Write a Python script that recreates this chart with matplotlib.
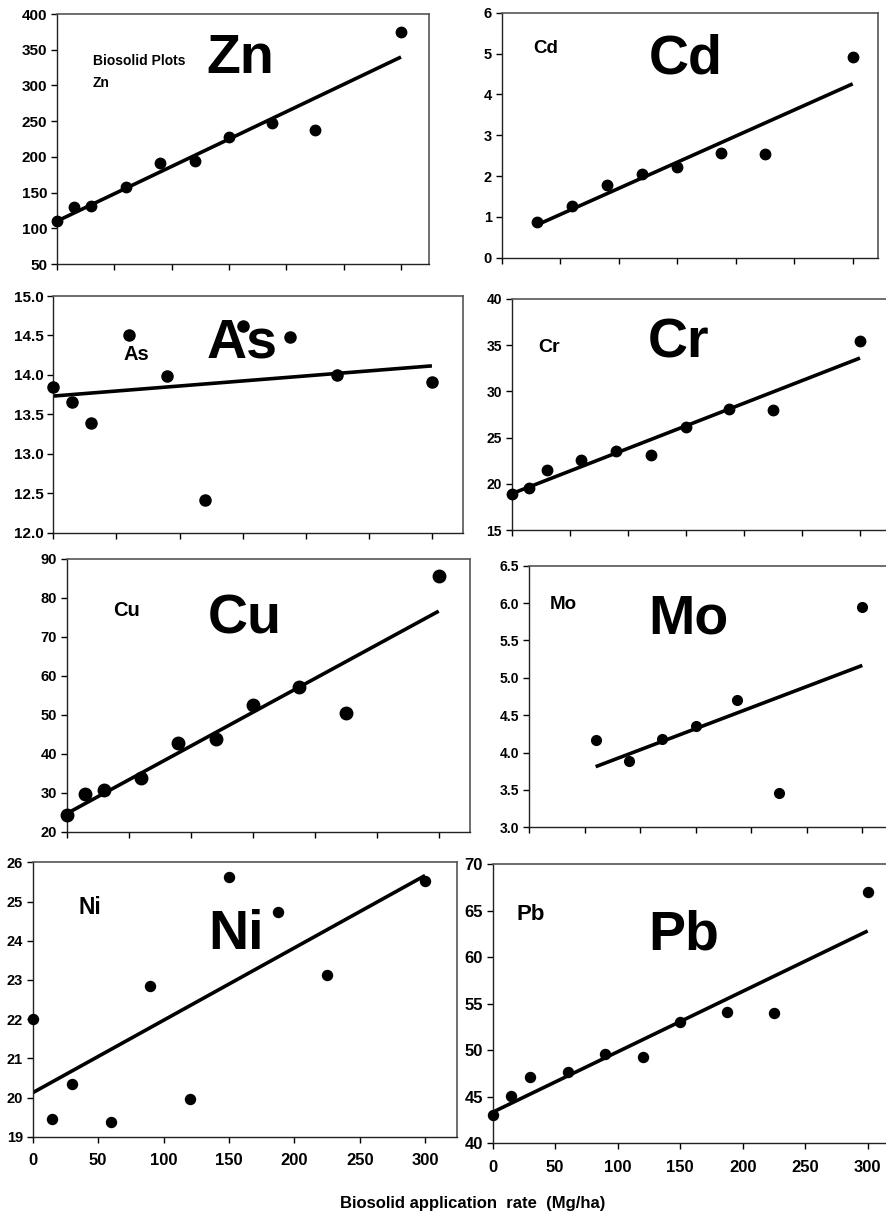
import numpy as np
import matplotlib
matplotlib.use("Agg")
import matplotlib.pyplot as plt

plt.rcParams['font.family'] = ['Liberation Sans', 'DejaVu Sans']
plt.rcParams['font.weight'] = 'bold'

# application rates (Mg/ha)
rate = [0, 15, 30, 60, 90, 120, 150, 187.5, 225, 300]

zn = [110, 130, 131, 158, 192, 194, 228, 247, 237, 375]
cd_rate = [30, 60, 90, 120, 150, 187.5, 225, 300]
cd = [0.88, 1.27, 1.78, 2.04, 2.23, 2.57, 2.53, 4.92]
as_ = [13.85, 13.66, 13.39, 14.51, 13.98, 12.42, 14.62, 14.48, 14.00, 13.91]
cr = [18.9, 19.5, 21.5, 22.6, 23.6, 23.1, 26.1, 28.1, 28.0, 35.5]
cu = [24.3, 29.7, 30.7, 33.7, 42.7, 43.7, 52.4, 57.2, 50.4, 85.6]
mo_rate = [60, 90, 120, 150, 187.5, 225, 300]
mo = [4.17, 3.89, 4.18, 4.35, 4.70, 3.46, 5.95]
ni = [22.0, 19.44, 20.34, 19.38, 22.84, 19.95, 25.62, 24.74, 23.13, 25.53]
pb = [43.05, 45.13, 47.1, 47.63, 49.57, 49.25, 53.01, 54.16, 53.98, 67.06]

W, H = 886, 1216
fig = plt.figure(figsize=(W / 100, H / 100), dpi=100)


def panel(box, x0px, sc, x, y, ylim, ystep, fmt, name, small, small_pos, big_pos,
          tick_fs, small_fs=12, ms=7.5, xlabels=False, xtick_fs=12):
    l, t, r, b = box
    ax = fig.add_axes([l / W, 1 - b / H, (r - l) / W, (b - t) / H])
    ax.plot(x, y, 'o', color='black', ms=ms, zorder=3, clip_on=False)
    # linear trend line, as in the original spreadsheet chart
    k, c = np.polyfit(x, y, 1)
    xx = np.array([min(x), max(x)])
    ax.plot(xx, k * xx + c, color='black', lw=2.6, solid_capstyle='butt', zorder=2)
    ax.set_xlim((l - x0px) / sc, (r - x0px) / sc)
    ax.set_ylim(*ylim)
    ax.set_xticks(np.arange(0, 301, 50))
    yt = np.arange(ylim[0], ylim[1] + ystep / 2, ystep)
    ax.set_yticks(yt)
    ax.set_yticklabels([fmt % v for v in yt], fontsize=tick_fs, fontweight='bold')
    if xlabels:
        ax.set_xticklabels([str(v) for v in range(0, 301, 50)], fontsize=xtick_fs,
                           fontweight='bold')
    else:
        ax.set_xticklabels([])
    ax.tick_params(direction='out', length=4, width=1, color='black', pad=3)
    ax.tick_params(axis='x', pad=8)
    for s in ['left', 'bottom']:
        ax.spines[s].set_color('#222222')
        ax.spines[s].set_linewidth(1.0)
    for s in ['top', 'right']:
        ax.spines[s].set_color('#555555')
        ax.spines[s].set_linewidth(1.2)
    fig.text(big_pos[0] / W, 1 - big_pos[1] / H, name, fontsize=40, fontweight='bold',
             ha='left', va='baseline')
    fig.text(small_pos[0] / W, 1 - small_pos[1] / H, small, fontsize=small_fs,
             fontweight='bold', ha='left', va='baseline')
    return ax


panel((57, 14, 429, 264), 57, 1.1467, rate, zn, (50, 400), 50, '%d', 'Zn', 'Zn',
      (93, 87), (206, 73), 11, small_fs=10)
fig.text(93 / W, 1 - 65 / H, 'Biosolid Plots', fontsize=10, fontweight='bold',
         ha='left', va='baseline')
panel((501.7, 12.7, 877.7, 257.7), 501.7, 1.17, cd_rate, cd, (0, 6), 1, '%d', 'Cd', 'Cd',
      (533, 53), (649, 73), 10.5, small_fs=13.5)
panel((53.3, 296, 463, 532.7), 53.3, 1.262, rate, as_, (12.0, 15.0), 0.5, '%.1f', 'As', 'As',
      (124, 360), (207, 357), 11, small_fs=14.5, ms=8)
panel((511.7, 299, 890, 530), 511.7, 1.161, rate, cr, (15, 40), 5, '%d', 'Cr', 'Cr',
      (538, 352), (648, 357), 10, small_fs=14)
panel((66.7, 559, 470, 831.7), 66.7, 1.24, rate, cu, (20, 90), 10, '%d', 'Cu', 'Cu',
      (113, 616), (208, 633), 10.5, small_fs=14.5, ms=9)
panel((529, 565.7, 890, 827.3), 529, 1.111, mo_rate, mo, (3.0, 6.5), 0.5, '%.1f', 'Mo', 'Mo',
      (550, 609), (648, 633), 10, small_fs=13.5, ms=7)
panel((32.7, 862.3, 457.3, 1136.7), 32.7, 1.308, rate, ni, (19, 26), 1, '%d', 'Ni', 'Ni',
      (78, 914), (208, 949), 10.5, small_fs=16.5, ms=7.2, xlabels=True, xtick_fs=12)
panel((492.7, 864.3, 899, 1143.3), 492.7, 1.25, rate, pb, (40, 70), 5, '%d', 'Pb', 'Pb',
      (517, 920), (648, 949), 12, small_fs=16, ms=7.2, xlabels=True, xtick_fs=12)

fig.text(473 / W, 1 - 1208 / H, 'Biosolid application  rate  (Mg/ha)', fontsize=12,
         fontweight='bold', ha='center', va='baseline')

fig.savefig('out.png', dpi=100)
